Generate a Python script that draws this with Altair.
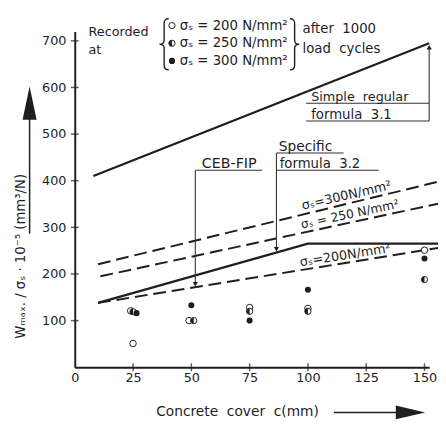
import altair as alt
import pandas as pd

FONT = "DejaVu Sans"
INK = "#1e1e1e"
NB = "\u00a0"

# ---------------- chart values ----------------
open_cover = [24, 25, 49, 75, 100, 150]          # sigma_s = 200 N/mm2
open_value = [121, 51, 100, 128, 126, 251]
half_cover = [25, 51, 75, 100, 150]              # sigma_s = 250 N/mm2
half_value = [119, 100, 120, 120, 188]
full_cover = [26.5, 50, 75, 100, 150]            # sigma_s = 300 N/mm2
full_value = [116, 133, 100, 166, 233]

simple_cover = [8, 152]                          # simple regular formula 3.1
simple_value = [410, 695]
specific_cover = [10, 100, 156]                  # specific formula 3.2
specific_value = [138, 265, 265]
ceb300_cover = [10, 156]                         # CEB-FIP, sigma_s = 300
ceb300_value = [221, 398]
ceb250_cover = [11, 156]                         # CEB-FIP, sigma_s = 250
ceb250_value = [195, 351]
ceb200_cover = [10, 156]                         # CEB-FIP, sigma_s = 200
ceb200_value = [138, 256]

x_ticks = [0, 25, 50, 75, 100, 125, 150]
y_ticks = [100, 200, 300, 400, 500, 600, 700]

# ---------------- scales / axes ----------------
xs = alt.Scale(domain=[0, 152], nice=False, zero=False)
ys = alt.Scale(domain=[0, 720], nice=False, zero=False)
x_axis = alt.Axis(values=x_ticks, title=None, grid=False, ticks=False, tickSize=0,
                  labelFont=FONT, labelFontSize=13, labelColor=INK, labelPadding=5,
                  labelFlush=False, labelOverlap=False, domainColor=INK, domainWidth=2)
y_axis = alt.Axis(values=y_ticks, title=None, grid=False, ticks=False, tickSize=0,
                  labelFont=FONT, labelFontSize=13, labelColor=INK, labelPadding=9,
                  labelOverlap=False, domainColor=INK, domainWidth=2)


def X(field):
    return alt.X(field, type="quantitative", scale=xs, axis=x_axis)


def Y(field):
    return alt.Y(field, type="quantitative", scale=ys, axis=y_axis)


def frame(c, v):
    return pd.DataFrame({"c": c, "v": v})


layers = []

# axis cross ticks
layers.append(alt.Chart(pd.DataFrame({"c": x_ticks[1:], "v": [0] * 6}))
              .mark_tick(orient="vertical", size=8, thickness=1.5, color=INK)
              .encode(x=X("c"), y=Y("v")))
layers.append(alt.Chart(pd.DataFrame({"c": [0] * 7, "v": y_ticks}))
              .mark_tick(orient="horizontal", size=8, thickness=1.5, color=INK)
              .encode(x=X("c"), y=Y("v")))

# lines
for c, v in [(simple_cover, simple_value), (specific_cover, specific_value)]:
    layers.append(alt.Chart(frame(c, v)).mark_line(color=INK, strokeWidth=2.2, clip=False)
                  .encode(x=X("c"), y=Y("v")))
for c, v in [(ceb300_cover, ceb300_value), (ceb250_cover, ceb250_value), (ceb200_cover, ceb200_value)]:
    layers.append(alt.Chart(frame(c, v)).mark_line(color=INK, strokeWidth=2, strokeDash=[13, 6], clip=False)
                  .encode(x=X("c"), y=Y("v")))

# measured points
HALF = "M0,-1A1,1 0 0 0 0,1Z"
layers.append(alt.Chart(frame(open_cover, open_value))
              .mark_point(shape="circle", filled=False, size=44, color=INK, strokeWidth=1, fill="white", fillOpacity=1)
              .encode(x=X("c"), y=Y("v")))
layers.append(alt.Chart(frame(half_cover, half_value))
              .mark_point(shape="circle", filled=False, size=40, color=INK, strokeWidth=1, fill="white", fillOpacity=1)
              .encode(x=X("c"), y=Y("v")))
layers.append(alt.Chart(frame(half_cover, half_value))
              .mark_point(shape=HALF, filled=True, size=40, color=INK, opacity=1)
              .encode(x=X("c"), y=Y("v")))
layers.append(alt.Chart(frame(full_cover, full_value))
              .mark_point(shape="circle", filled=True, size=38, color=INK, opacity=1)
              .encode(x=X("c"), y=Y("v")))

# ---------------- annotations in data space ----------------
leaders = pd.DataFrame({
    "c1": [99.2, 99.2, 152.0, 86.5, 86.5, 86.5, 51.7, 51.7],
    "c2": [152.0, 152.0, 152.0, 115.3, 130.4, 86.5, 80.4, 51.7],
    "v1": [566, 528, 528, 459.6, 422.5, 459.6, 422.5, 422.5],
    "v2": [566, 528, 684, 459.6, 422.5, 258, 422.5, 180],
})
layers.append(alt.Chart(leaders).mark_rule(color="#333333", strokeWidth=1.1)
              .encode(x=X("c1"), x2="c2", y=Y("v1"), y2="v2"))

heads = pd.DataFrame({"c": [152.0, 86.5, 51.7], "v": [686, 253, 178],
                      "s": ["triangle-up", "triangle-down", "triangle-down"]})
for i in range(3):
    layers.append(alt.Chart(heads.iloc[[i]]).mark_point(shape=heads["s"][i], filled=True, size=28,
                                                       color=INK, opacity=1)
                  .encode(x=X("c"), y=Y("v")))


def dlabel(text, c, v, size=13, angle=0, align="left", baseline="alphabetic"):
    return (alt.Chart(pd.DataFrame({"c": [c], "v": [v]}))
            .mark_text(text=text, font=FONT, fontSize=size, color=INK, angle=angle,
                       align=align, baseline=baseline)
            .encode(x=X("c"), y=Y("v")))


layers += [
    dlabel(f"Simple{NB}{NB}regular", 101.4, 570.5),
    dlabel(f"formula{NB}{NB}3.1", 101.4, 531.6, size=13.5),
    dlabel("Specific", 87.5, 464, size=14),
    dlabel(f"formula{NB}{NB}3.2", 87.9, 427, size=13.5),
    dlabel("CEB-FIP", 54.5, 428, size=14.5),
    dlabel("σₛ=300N/mm²", 116.5, 368, size=13, angle=347, align="center", baseline="middle"),
    dlabel("σₛ = 250 N/mm²", 118.0, 328, size=12.5, angle=348, align="center", baseline="middle"),
    dlabel("σₛ=200N/mm²", 116.0, 240, size=13, angle=351, align="center", baseline="middle"),
]

# ---------------- page-space decorations (outside the plot) ----------------
one = pd.DataFrame({"k": [0]})
OX, OY = 76, 28  # plot origin on the page


def plabel(text, px, py, size=13, angle=0, align="left", baseline="middle"):
    return (alt.Chart(one).mark_text(text=text, font=FONT, fontSize=size, color=INK, angle=angle,
                                     align=align, baseline=baseline)
            .encode(x=alt.value(px - OX), y=alt.value(py - OY)))


def pshape(shape, px, py, size, filled=True, stroke=1.0):
    kw = dict(shape=shape, filled=filled, size=size, color=INK, opacity=1, strokeWidth=stroke)
    if not filled:
        kw.update(fill="white", fillOpacity=1)
    return (alt.Chart(one).mark_point(**kw)
            .encode(x=alt.value(px - OX), y=alt.value(py - OY)))


def pbrace(shape, px, py, size):
    return (alt.Chart(one).mark_point(shape=shape, filled=False, size=size, color=INK, opacity=1,
                                      strokeWidth=1.4)
            .encode(x=alt.value(px - OX), y=alt.value(py - OY)))


def prule(x1, y1, x2, y2, w=1.5):
    return (alt.Chart(one).mark_rule(color=INK, strokeWidth=w)
            .encode(x=alt.value(x1 - OX), y=alt.value(y1 - OY), x2=alt.value(x2 - OX), y2=alt.value(y2 - OY)))


LBRACE = ("M0.22,-1Q0.04,-1 0.04,-0.82L0.04,-0.16Q0.04,0 -0.14,0"
          "Q0.04,0 0.04,0.16L0.04,0.82Q0.04,1 0.22,1")
RBRACE = ("M-0.22,-1Q-0.04,-1 -0.04,-0.82L-0.04,-0.16Q-0.04,0 0.14,0"
          "Q-0.04,0 -0.04,0.16L-0.04,0.82Q-0.04,1 -0.22,1")

layers += [
    # legend block
    plabel("Recorded", 90, 29),
    plabel("at", 90, 47),
    pbrace(LBRACE, 166, 41, 2704),
    pbrace(RBRACE, 301, 41, 2704),
    pshape("circle", 175, 22, 40, filled=False),
    pshape("circle", 175, 40, 40, filled=False),
    pshape(HALF, 175, 40, 40),
    pshape("circle", 175, 58, 40),
    plabel("σₛ = 200 N/mm²", 183, 22, size=13.5),
    plabel("σₛ = 250 N/mm²", 183, 40, size=13.5),
    plabel("σₛ = 300 N/mm²", 183, 58, size=13.5),
    plabel(f"after{NB}{NB}1000", 308, 26, size=13.5),
    plabel(f"load{NB}{NB}cycles", 308, 46, size=13.5),
    # y title + arrow
    plabel("Wₘₐₓ. / σₛ · 10⁻⁵ (mm³/N)", 21, 257, size=13.5, angle=270, align="center"),
    prule(30, 110, 30, 234),
    pshape("M0,-1L0.42,1L-0.42,1Z", 30, 101, 1156),
    # x title + arrow
    plabel(f"Concrete{NB}{NB}cover{NB}{NB}c(mm)", 159, 416, size=14),
    prule(340, 416, 410, 416),
    pshape("M1,0L-1,-0.47L-1,0.47Z", 418, 416, 900),
]

chart = alt.layer(*layers).properties(
    width=361, height=342,
    autosize=alt.AutoSizeParams(type="none"),
    padding={"left": 68, "top": 20, "right": 9, "bottom": 60},
    background="white",
).configure_view(stroke=None)

chart.save("out.html", embed_options={"renderer": "svg", "actions": False})
